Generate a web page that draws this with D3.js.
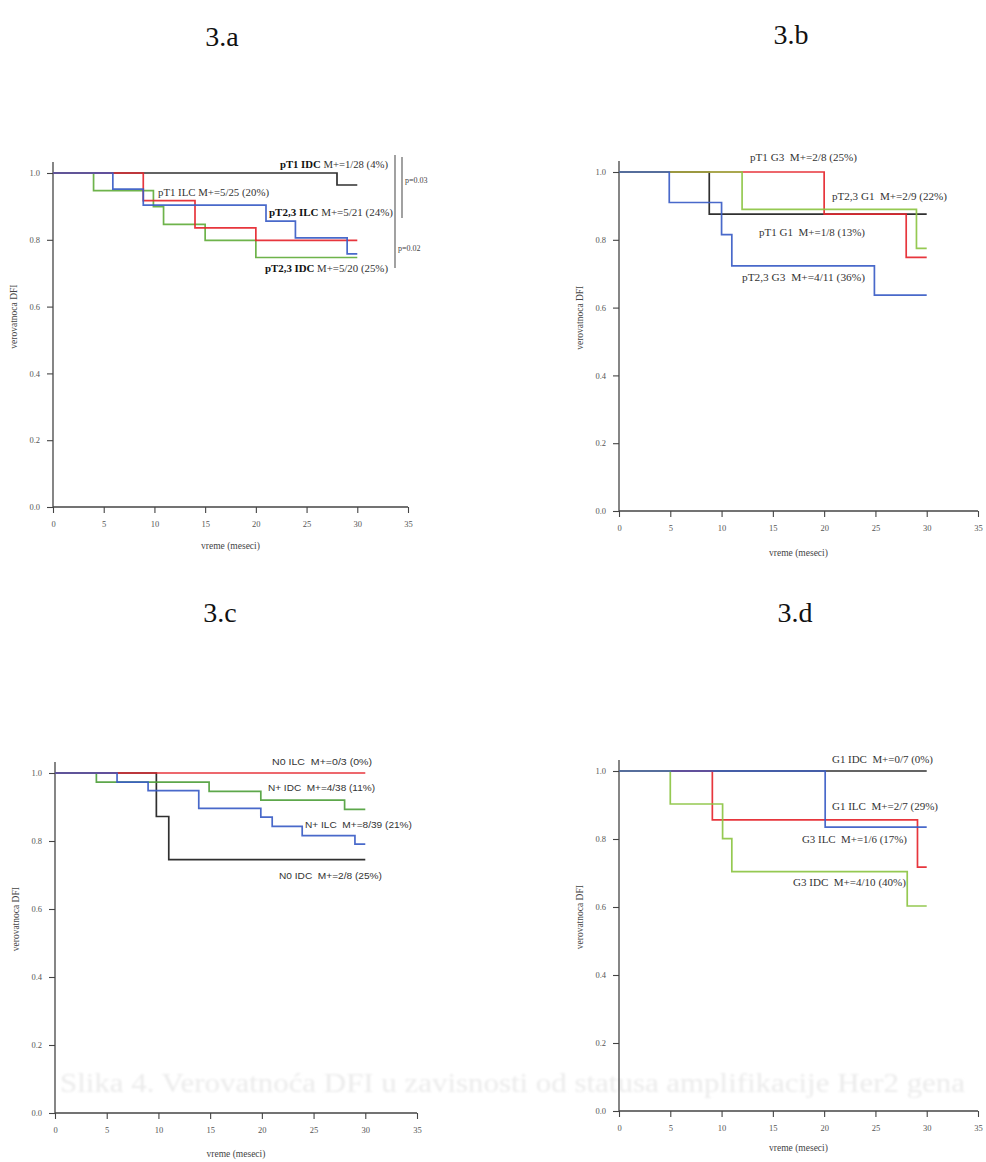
<!DOCTYPE html>
<html>
<head>
<meta charset="utf-8">
<script src="https://cdn.jsdelivr.net/npm/d3@7"></script>
<style>
  body { margin: 0; background: #fff; }
  svg { display: block; }
</style>
</head>
<body>
<svg id="fig" width="986" height="1162"></svg>
<script>
// ---- Kaplan–Meier step data: [month, DFI probability] ----
// 3.a  pT stage x histology
const a_pT1_IDC  = [[0,1],[28,0.964],[30,0.964]];
const a_pT1_ILC  = [[0,1],[4,0.947],[9.9,0.899],[10.9,0.846],[15,0.798],[20,0.747],[30,0.747]];
const a_pT23_IDC = [[0,1],[8.9,0.917],[14,0.836],[20,0.798],[30,0.798]];
const a_pT23_ILC = [[0,1],[5.9,0.952],[8.9,0.904],[21,0.856],[23.9,0.806],[29,0.758],[30,0.758]];
// 3.b  pT stage x grade
const b_pT1_G1  = [[0,1],[8.8,0.876],[30,0.876]];
const b_pT1_G3  = [[0,1],[20,0.876],[28,0.748],[30,0.748]];
const b_pT23_G1 = [[0,1],[12,0.89],[29,0.775],[30,0.775]];
const b_pT23_G3 = [[0,1],[4.9,0.91],[10,0.815],[11,0.723],[24.9,0.637],[30,0.637]];
// 3.c  nodal status x histology
const c_N0_IDC = [[0,1],[9.8,0.872],[11,0.745],[30,0.745]];
const c_Np_IDC = [[0,1],[4,0.973],[14.9,0.946],[19.9,0.92],[28,0.893],[30,0.893]];
const c_N0_ILC = [[0,1],[30,1]];
const c_Np_ILC = [[0,1],[6,0.973],[9,0.948],[13.9,0.896],[19.9,0.87],[21,0.843],[23.9,0.816],[29,0.791],[30,0.791]];
// 3.d  grade x histology
const d_G1_IDC = [[0,1],[30,1]];
const d_G3_ILC = [[0,1],[9.1,0.856],[29.1,0.717],[30,0.717]];
const d_G3_IDC = [[0,1],[5,0.903],[10.1,0.801],[11,0.704],[28.1,0.603],[30,0.603]];
const d_G1_ILC = [[0,1],[20.1,0.835],[30,0.835]];

// group labels: [name, metastasis count]
const a_labels = [["pT1 IDC"," M+=1/28 (4%)"],["pT1 ILC"," M+=5/25 (20%)"],["pT2,3 ILC"," M+=5/21 (24%)"],["pT2,3 IDC"," M+=5/20 (25%)"]];
const b_labels = [["pT1 G3","  M+=2/8 (25%)"],["pT2,3 G1","  M+=2/9 (22%)"],["pT1 G1","  M+=1/8 (13%)"],["pT2,3 G3","  M+=4/11 (36%)"]];
const c_labels = [["N0 ILC","  M+=0/3 (0%)"],["N+ IDC","  M+=4/38 (11%)"],["N+ ILC","  M+=8/39 (21%)"],["N0 IDC","  M+=2/8 (25%)"]];
const d_labels = [["G1 IDC","  M+=0/7 (0%)"],["G1 ILC","  M+=2/7 (29%)"],["G3 ILC","  M+=1/6 (17%)"],["G3 IDC","  M+=4/10 (40%)"]];
const a_pValues = ["p=0.03","p=0.02"];

const monthTicks = [0,5,10,15,20,25,30,35];
const probTicks  = [0,0.2,0.4,0.6,0.8,1.0];
const panelTitles = ["3.a","3.b","3.c","3.d"];
const xTitle = "vreme (meseci)";
const yTitle = "verovatnoca DFI";

// faint caption showing through from the facing page
const bleedCaption = "Slika 4. Verovatnoća DFI u zavisnosti od statusa amplifikacije Her2 gena";

// ---- drawing ----
const svg = d3.select("#fig");
const SERIF = "'Liberation Serif','Times New Roman',serif";
const SANS  = "'Liberation Sans',Arial,sans-serif";

const defs = svg.append("defs");
defs.append("filter").attr("id","soft").append("feGaussianBlur").attr("stdDeviation",0.8);

svg.append("text").attr("filter","url(#soft)")
  .attr("x",60).attr("y",1092).attr("font-family",SERIF).attr("font-size",28)
  .attr("textLength",905).attr("lengthAdjust","spacingAndGlyphs")
  .attr("fill","#ebebeb").text(bleedCaption);

const RED = "#e5252d", BLUE = "#3a5cc5", BLACK = "#1e1e1e";

const panels = [
  { title: panelTitles[0], tx: 222, ty: 46, xl: 53, xr: 408, yb: 507, yt: 173,
    series: [[a_pT1_IDC,BLACK],[a_pT1_ILC,"#62ad3c"],[a_pT23_IDC,RED],[a_pT23_ILC,BLUE]],
    labels: a_labels, font: SERIF, fs: 10.5, bold: [true,false,true,true],
    lpos: [[388,168,"end",108],[158,196,"start",111],[393,216,"end",124],[388,272,"end",123]],
    xtOff: 42 },
  { title: panelTitles[1], tx: 791, ty: 44, xl: 619, xr: 978, yb: 511, yt: 172,
    series: [[b_pT1_G1,BLACK],[b_pT1_G3,RED],[b_pT23_G1,"#8cc443"],[b_pT23_G3,BLUE]],
    labels: b_labels, font: SERIF, fs: 10, bold: [false,false,false,false],
    lpos: [[750,161,"start",107],[832,200,"start",115],[759,236,"start",106],[742,281,"start",123]],
    xtOff: 45 },
  { title: panelTitles[2], tx: 220, ty: 622, xl: 55, xr: 417, yb: 1113, yt: 773,
    series: [[c_N0_IDC,BLACK],[c_Np_IDC,"#4fa03c"],[c_N0_ILC,RED],[c_Np_ILC,BLUE]],
    labels: c_labels, font: SANS, fs: 9, bold: [false,false,false,false],
    lpos: [[272,765,"start",100],[268,791,"start",107],[305,828,"start",107],[279,879,"start",103]],
    xtOff: 44 },
  { title: panelTitles[3], tx: 795, ty: 622, xl: 619, xr: 978, yb: 1111, yt: 771,
    series: [[d_G1_IDC,BLACK],[d_G3_ILC,RED],[d_G3_IDC,"#8cc443"],[d_G1_ILC,BLUE]],
    labels: d_labels, font: SERIF, fs: 10, bold: [false,false,false,false],
    lpos: [[832,763,"start",101],[832,810,"start",106],[802,843,"start",105],[793,886,"start",113]],
    xtOff: 40 }
];

panels.forEach((p, pi) => {
  const x = d3.scaleLinear().domain([0,35]).range([p.xl, p.xr]);
  const y = d3.scaleLinear().domain([0,1]).range([p.yb, p.yt]);
  const g = svg.append("g");

  g.append("text").attr("x",p.tx).attr("y",p.ty).attr("text-anchor","middle")
    .attr("font-family",SERIF).attr("font-size",28).attr("fill","#111").text(p.title);

  // y axis
  const ya = g.append("g").attr("transform",`translate(${p.xl},0)`)
    .call(d3.axisLeft(y).tickValues(probTicks).tickFormat(d3.format(".1f")).tickSize(6).tickPadding(7));
  ya.select(".domain").remove();
  ya.selectAll(".tick line").attr("stroke","#444").attr("stroke-width",1.1);
  ya.selectAll(".tick text").attr("font-family",SERIF).attr("font-size",8.5).attr("fill","#555");
  g.append("line").attr("x1",p.xl).attr("x2",p.xl).attr("y1",p.yt-11).attr("y2",p.yb)
    .attr("stroke","#444").attr("stroke-width",1.3);

  // x axis
  const xa = g.append("g").attr("transform",`translate(0,${p.yb})`)
    .call(d3.axisBottom(x).tickValues(monthTicks).tickSize(6).tickPadding(8));
  xa.select(".domain").remove();
  xa.selectAll(".tick line").attr("stroke","#444").attr("stroke-width",1.1);
  xa.selectAll(".tick text").attr("font-family",SERIF).attr("font-size",8.5).attr("fill","#555");
  g.append("line").attr("x1",p.xl).attr("x2",p.xr).attr("y1",p.yb).attr("y2",p.yb)
    .attr("stroke","#444").attr("stroke-width",1.3);

  // axis titles
  g.append("text").attr("x",(p.xl+p.xr)/2).attr("y",p.yb+p.xtOff).attr("text-anchor","middle")
    .attr("font-family",SERIF).attr("font-size",9.5).attr("fill","#444").text(xTitle);
  const yc = y(0.57);
  g.append("text").attr("transform",`translate(${p.xl-36},${yc}) rotate(-90)`)
    .attr("text-anchor","middle").attr("font-family",SERIF).attr("font-size",9.5)
    .attr("fill","#444").text(yTitle);

  // survival curves
  const line = d3.line().x(d => x(d[0])).y(d => y(d[1])).curve(d3.curveStepAfter);
  p.series.forEach(([data,col]) => {
    g.append("path").datum(data).attr("d",line).attr("fill","none")
      .attr("stroke",col).attr("stroke-width",1.7).attr("opacity",0.92);
  });

  // group labels
  p.labels.forEach((lab,i) => {
    const [lx,ly,anchor,w] = p.lpos[i];
    const t = g.append("text").attr("x",lx).attr("y",ly).attr("text-anchor",anchor)
      .attr("font-family",p.font).attr("font-size",p.fs).attr("fill","#333")
      .attr("textLength",w).attr("lengthAdjust","spacingAndGlyphs");
    t.append("tspan").attr("font-weight",p.bold[i] ? "bold" : "normal")
      .attr("fill",p.bold[i] ? "#111" : "#333").text(lab[0]);
    t.append("tspan").attr("xml:space","preserve").style("white-space","pre").text(lab[1]);
  });

  // log-rank brackets (3.a)
  if (pi === 0) {
    g.append("line").attr("x1",395).attr("x2",395).attr("y1",155).attr("y2",268)
      .attr("stroke","#555").attr("stroke-width",1.1);
    g.append("line").attr("x1",402).attr("x2",402).attr("y1",157).attr("y2",218)
      .attr("stroke","#555").attr("stroke-width",1.1);
    g.append("text").attr("x",405).attr("y",183).attr("font-family",SERIF).attr("font-size",8)
      .attr("fill","#444").text(a_pValues[0]);
    g.append("text").attr("x",398).attr("y",251).attr("font-family",SERIF).attr("font-size",8)
      .attr("fill","#444").text(a_pValues[1]);
  }
});
</script>
</body>
</html>
